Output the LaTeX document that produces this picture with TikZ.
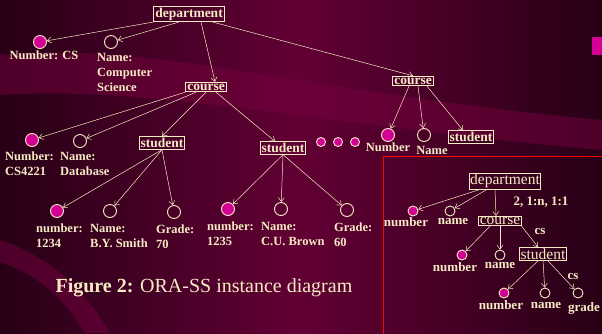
\documentclass[tikz,border=0pt]{standalone}
\usepackage{fontspec}
\setmainfont{Liberation Serif}
\usetikzlibrary{arrows.meta}
\definecolor{bgdark}{RGB}{40,0,22}
\definecolor{bgmid}{RGB}{98,0,52}
\definecolor{bgband}{RGB}{118,0,62}
\definecolor{cream}{RGB}{245,235,195}
\definecolor{keyfill}{RGB}{212,0,150}
\tikzset{
  entity/.style={draw=cream, line width=0.8pt, text=cream, font=\bfseries\fontsize{13.5}{14}\selectfont, inner sep=1.5pt},
  ientity/.style={draw=cream, line width=0.8pt, text=cream, font=\fontsize{15.5}{16}\selectfont, inner sep=1pt},
  keyatt/.style={circle, draw=cream, fill=keyfill, line width=0.9pt, minimum size=13pt, inner sep=0pt},
  att/.style={circle, draw=cream, line width=0.9pt, minimum size=13pt, inner sep=0pt},
  lbl/.style={text=cream, font=\bfseries\fontsize{12.5}{15}\selectfont, align=left, inner sep=0pt},
  ilbl/.style={text=cream, font=\bfseries\fontsize{13}{14}\selectfont, inner sep=0pt},
  link/.style={draw=cream, line width=0.5pt, -{Straight Barb[length=4pt,width=6pt]}},
}
\begin{document}
\begin{tikzpicture}[x=1pt,y=-1pt]
\useasboundingbox (0,0) rectangle (602,333);
\shade[left color=bgdark, right color=bgdark, middle color=bgmid] (0,0) rectangle (602,333);
\fill[bgband, opacity=0.5] (0,55) .. controls (150,40) and (320,95) .. (602,120) -- (602,150) .. controls (320,125) and (150,85) .. (0,95) -- cycle;
\fill[bgband, opacity=0.5] (0,240) .. controls (60,260) and (90,300) .. (110,333) -- (85,333) .. controls (65,300) and (40,275) .. (0,262) -- cycle;
\fill[keyfill] (592,37) rectangle (602,55);
\draw[red, line width=1pt] (383,156) rectangle (606,337);

\node[entity] (dept) at (189,14) {department};
\node[keyatt] (dnum) at (40,42) {};
\node[lbl, anchor=north] (dnuml) at (44,51) {Number: CS};
\node[att] (dname) at (111,42) {};
\node[lbl, anchor=north west] (dnamel) at (97,53) {Name:\\Computer\\Science};

\node[entity] (crs) at (206,87) {course};
\node[keyatt] (cnum) at (32,140) {};
\node[lbl, anchor=north west] (cnuml) at (5,152) {Number:\\CS4221};
\node[att] (cname) at (80,141) {};
\node[lbl, anchor=north west] (cnamel) at (60,152) {Name:\\Database};

\node[entity] (stA) at (162,143) {student};
\node[keyatt] (anum) at (57,211) {};
\node[lbl, anchor=north west] (anuml) at (36,224) {number:\\1234};
\node[att] (aname) at (110,211) {};
\node[lbl, anchor=north west] (anamel) at (90,224) {Name:\\B.Y. Smith};
\node[att] (agrade) at (174,212) {};
\node[lbl, anchor=north west] (agradel) at (156,225) {Grade:\\70};

\node[entity] (stB) at (283,148) {student};
\node[keyatt] (bnum) at (228,209) {};
\node[lbl, anchor=north west] (bnuml) at (207,222) {number:\\1235};
\node[att] (bname) at (281,209) {};
\node[lbl, anchor=north west] (bnamel) at (261,222) {Name:\\C.U. Brown};
\node[att] (bgrade) at (347,210) {};
\node[lbl, anchor=north west] (bgradel) at (334,223) {Grade:\\60};

\foreach \x in {321,338,355}
  \node[keyatt, minimum size=9pt] (dot\x) at (\x,142) {};

\node[entity] (crsB) at (413,81) {course};
\node[keyatt] (cbnum) at (388,135) {};
\node[lbl, anchor=north] (cbnuml) at (388,143) {Number};
\node[att] (cbname) at (424,135) {};
\node[lbl, anchor=north] (cbnamel) at (432,146) {Name};
\node[entity] (stC) at (471,137) {student};

\draw[link] (dept.south west) -- (dnum);
\draw[link] ([xshift=-10pt]dept.south) -- (dname);
\draw[link] ([xshift=12pt]dept.south) -- ([xshift=9pt]crs.north);
\draw[link] ([xshift=-12pt]dept.south east) -- (crsB.north);
\draw[link] (crs.south west) -- (cnum);
\draw[link] ([xshift=-10pt]crs.south) -- (cname);
\draw[link] (crs.south) -- (stA.north);
\draw[link] ([xshift=10pt]crs.south) -- ([xshift=-8pt]stB.north);
\draw[link] (stA.south) -- (anum);
\draw[link] (stA.south) -- (aname);
\draw[link] (stA.south) -- (agrade);
\draw[link] (stB.south) -- (bnum);
\draw[link] (stB.south) -- (bname);
\draw[link] (stB.south) -- (bgrade);
\draw[link] ([xshift=-4pt]crsB.south) -- (cbnum);
\draw[link] ([xshift=5pt]crsB.south) -- (cbname);
\draw[link] ([xshift=14pt]crsB.south) -- ([xshift=-8pt]stC.north);

\node[ientity] (idept) at (505,181) {department};
\node[keyatt, minimum size=10pt] (inum) at (413,211) {};
\node[ilbl, anchor=north] (inuml) at (406,217) {number};
\node[att, minimum size=10pt] (iname) at (450,211) {};
\node[ilbl, anchor=north] (inamel) at (453,218) {name};
\node[ilbl] (icard) at (541,202) {2, 1:n, 1:1};
\node[ientity] (icrs) at (500,221) {course};
\node[ilbl] (ics1) at (540,231) {cs};
\node[keyatt, minimum size=10pt] (icnum) at (462,255) {};
\node[ilbl, anchor=north] (icnuml) at (455,262) {number};
\node[att, minimum size=10pt] (icname) at (500,255) {};
\node[ilbl, anchor=north] (icnamel) at (500,262) {name};
\node[ientity] (ist) at (543,254) {student};
\node[ilbl] (ics2) at (573,276) {cs};
\node[keyatt, minimum size=10pt] (isnum) at (504,293) {};
\node[ilbl, anchor=north] (isnuml) at (501,300) {number};
\node[att, minimum size=10pt] (isname) at (545,293) {};
\node[ilbl, anchor=north] (isnamel) at (546,302) {name};
\node[att, minimum size=10pt] (isgrade) at (578,293) {};
\node[ilbl, anchor=north] (isgradel) at (584,302) {grade};

\draw[link] ([xshift=-25pt]idept.south) -- (inum);
\draw[link] ([xshift=-18pt]idept.south) -- (iname);
\draw[link] ([xshift=-10pt]idept.south) -- ([xshift=-4pt]icrs.north);
\draw[link] ([xshift=-10pt]icrs.south) -- (icnum);
\draw[link] (icrs.south) -- (icname);
\draw[link] (icrs.south east) -- ([xshift=-5pt]ist.north);
\draw[link] ([xshift=-5pt]ist.south) -- (isnum);
\draw[link] (ist.south) -- (isname);
\draw[link] ([xshift=5pt]ist.south) -- (isgrade);

\node[anchor=west, text=cream, font=\fontsize{20}{24}\selectfont] (cap) at (52,288) {\textbf{Figure 2:} ORA-SS instance diagram};
\end{tikzpicture}
\end{document}
